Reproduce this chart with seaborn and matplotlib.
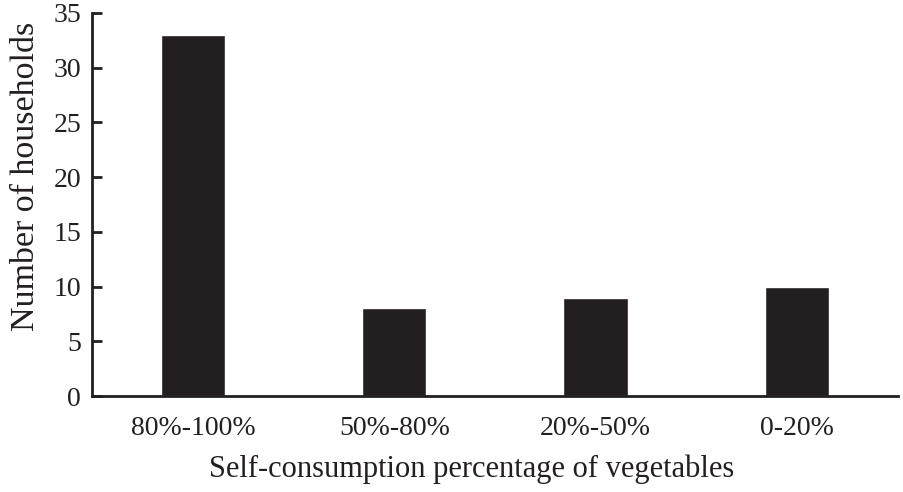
import matplotlib
matplotlib.use('Agg')
import matplotlib.pyplot as plt
import seaborn as sns
import pandas as pd

categories = ['80%-100%', '50%-80%', '20%-50%', '0-20%']
households = [33, 8, 9, 10]

sns.set_theme(style='white')
plt.rcParams.update({'font.family': 'Liberation Serif', 'font.size': 20})

df = pd.DataFrame({'category': categories, 'households': households})

fig, ax = plt.subplots(figsize=(9.04, 4.92), dpi=100)
fig.subplots_adjust(left=0.102, right=0.993, top=0.974, bottom=0.195)

sns.barplot(data=df, x='category', y='households', color='#231f20', saturation=1,
            width=0.32, ax=ax)

ax.set_ylim(0, 35)
ax.set_yticks(range(0, 36, 5))
ax.set_xlim(-0.5, 3.5)
ax.set_xlabel('Self-consumption percentage of vegetables', fontsize=22, labelpad=10)
ax.set_ylabel('Number of households', fontsize=24.5, labelpad=9)
ax.xaxis.label.set_x(0.471)
ax.yaxis.label.set_y(0.574)

sns.despine(ax=ax)
for side in ['left', 'bottom']:
    ax.spines[side].set_color('#231f20')
    ax.spines[side].set_linewidth(2)
ax.tick_params(axis='y', direction='in', length=7, width=2, color='#231f20',
               left=True, labelsize=20, pad=8)
ax.tick_params(axis='x', bottom=False, labelsize=20, pad=8)
for lbl in ax.get_xticklabels() + ax.get_yticklabels():
    lbl.set_color('#231f20')
ax.xaxis.label.set_color('#231f20')
ax.yaxis.label.set_color('#231f20')

fig.savefig('out.png', dpi=100)
